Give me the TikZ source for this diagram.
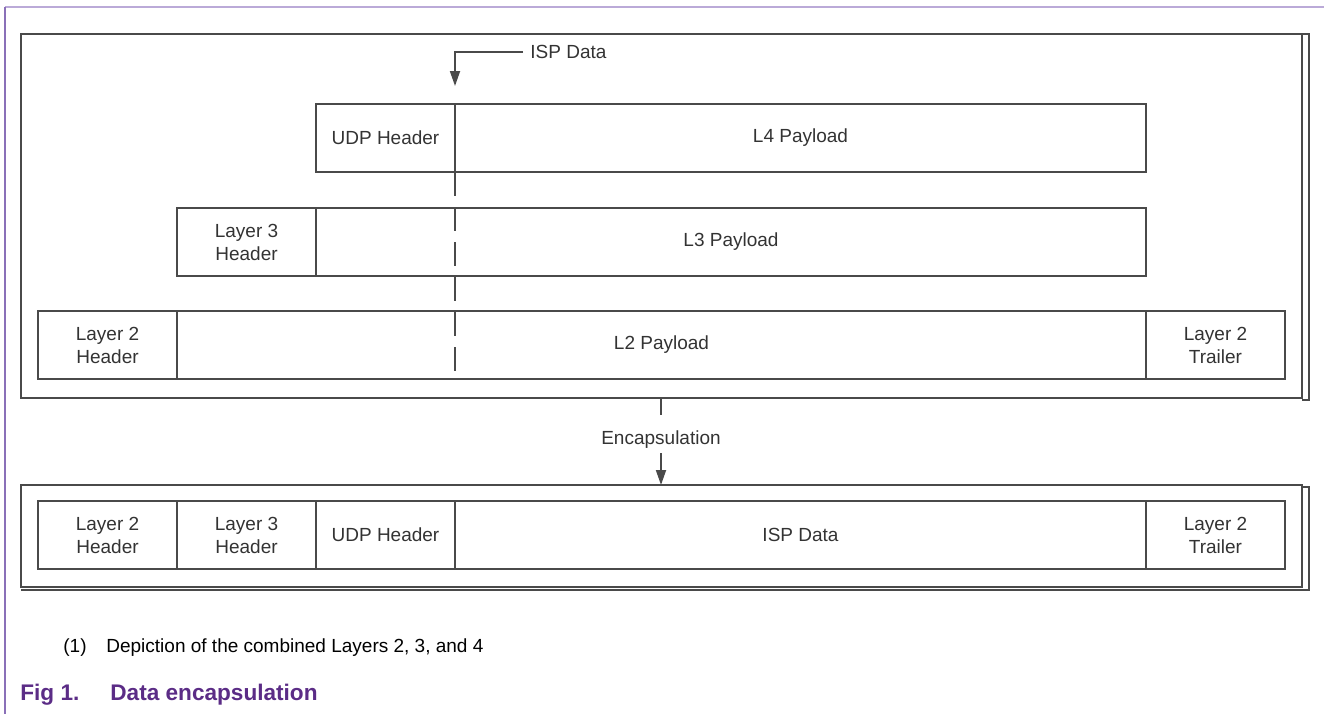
\documentclass[tikz,border=0pt]{standalone}
\usepackage{fontspec}
\setmainfont{Liberation Sans}
\usetikzlibrary{arrows.meta}
\definecolor{linegray}{HTML}{4A4A4A}
\definecolor{textgray}{HTML}{333333}
\definecolor{rulelav}{HTML}{BBAAD8}
\definecolor{rulepurple}{HTML}{8A70B8}
\definecolor{capurple}{HTML}{5B2C86}
\tikzset{
  cell/.style={draw=linegray, line width=0.9pt, inner sep=0pt, outer sep=0pt,
    align=center, anchor=north west, minimum height=34pt,
    font=\fontsize{9.5}{11.5}\selectfont, text=textgray},
  frame/.style={draw=linegray, line width=1pt, inner sep=0pt, outer sep=0pt,
    anchor=north west},
  lbl/.style={font=\fontsize{9.5}{11.5}\selectfont, text=textgray, inner sep=0pt},
  wire/.style={draw=linegray, line width=0.9pt},
  tip/.style={-{Triangle[length=7.5pt,width=5pt]}},
}
\begin{document}
\begin{tikzpicture}[x=0.5pt,y=-0.5pt]
\useasboundingbox (0,0) rectangle (1324,714);

% page rules
\draw[rulelav, line width=1pt] (5,7) -- (1324,7);
\draw[rulepurple, line width=0.8pt] (5,7) -- (5,714);

% outer frames (with offset edge on the right / bottom)
\node[frame, minimum width=640.5pt, minimum height=182pt] (top) at (21,34) {};
\draw[wire] (1302,34) -- (1309,34) -- (1309,400) -- (1302,400);
\node[frame, minimum width=640.5pt, minimum height=51pt] (bot) at (21,485) {};
\draw[wire] (1302,487) -- (1309,487) -- (1309,590) -- (21,590);

% layer 4
\node[cell, minimum width=69.5pt] (udp) at (316,104) {UDP Header};
\node[cell, minimum width=345.5pt] (l4) at (455,104) {L4 Payload};
% layer 3
\node[cell, minimum width=69.5pt] (l3h) at (177,208) {Layer 3\\Header};
\node[cell, minimum width=415pt] (l3) at (316,208) {L3 Payload};
% layer 2
\node[cell, minimum width=69.5pt] (l2h) at (38,311) {Layer 2\\Header};
\node[cell, minimum width=484.5pt] (l2) at (177,311) {L2 Payload};
\node[cell, minimum width=69.5pt] (l2t) at (1146,311) {Layer 2\\Trailer};

% combined frame
\node[cell, minimum width=69.5pt] (c2h) at (38,501) {Layer 2\\Header};
\node[cell, minimum width=69.5pt] (c3h) at (177,501) {Layer 3\\Header};
\node[cell, minimum width=69.5pt] (cudp) at (316,501) {UDP Header};
\node[cell, minimum width=345.5pt] (cdata) at (455,501) {ISP Data};
\node[cell, minimum width=69.5pt] (c2t) at (1146,501) {Layer 2\\Trailer};

% ISP data marker
\node[lbl, anchor=west, inner xsep=3.5pt] (isp) at (523,52) {ISP Data};
\coordinate (isptip) at (455,86);
\draw[wire, tip] (isp.west) -- (455,52) -- (isptip);
\coordinate (dashend) at (455,380);
\draw[wire, dash pattern=on 12pt off 5.5pt] (udp.south east) -- (dashend);

% encapsulation arrow
\node[lbl] (enc) at (661,440) {Encapsulation};
\coordinate (encin) at (661,415);
\coordinate (encout) at (661,453);
\draw[wire] (top.south -| enc) -- (encin);
\draw[wire, tip] (encout) -- (bot.north -| enc);

% captions
\node[lbl, anchor=west, text=black] (cn) at (63,648) {(1)};
\node[lbl, anchor=west, text=black] (ct) at (106,648) {Depiction of the combined Layers 2, 3, and 4};
\node[anchor=west, inner sep=0pt, text=capurple, font=\fontsize{11.3}{13}\selectfont\bfseries] (fn) at (20,695) {Fig 1.};
\node[anchor=west, inner sep=0pt, text=capurple, font=\fontsize{11.3}{13}\selectfont\bfseries] (ft) at (110,695) {Data encapsulation};
\end{tikzpicture}
\end{document}
